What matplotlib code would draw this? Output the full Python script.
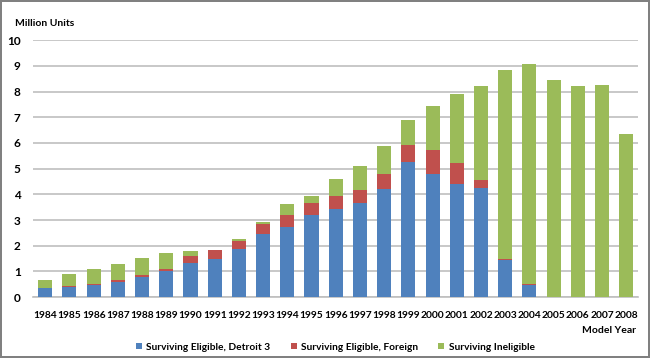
import matplotlib.pyplot as plt
import numpy as np

years = [str(y) for y in range(1984, 2009)]
# million units
detroit3 = [0.36, 0.40, 0.48, 0.60, 0.79, 1.00, 1.33, 1.49, 1.87, 2.45, 2.72, 3.18,
            3.41, 3.65, 4.19, 5.26, 4.81, 4.42, 4.25, 1.43, 0.46, 0, 0, 0, 0]
foreign = [0.01, 0.04, 0.04, 0.07, 0.09, 0.10, 0.27, 0.34, 0.32, 0.39, 0.48, 0.48,
           0.53, 0.53, 0.61, 0.65, 0.92, 0.79, 0.30, 0.06, 0.05, 0, 0, 0, 0]
totals = [0.66, 0.89, 1.09, 1.27, 1.54, 1.71, 1.80, 1.85, 2.28, 2.92, 3.61, 3.92,
          4.58, 5.10, 5.87, 6.89, 7.42, 7.90, 8.22, 8.84, 9.08, 8.46, 8.20, 8.24, 6.36]
ineligible = [t - d - f for t, d, f in zip(totals, detroit3, foreign)]

blue = "#4F81BD"
red = "#C0504D"
green = "#9BBB59"

plt.rcParams["font.family"] = ["Lato", "DejaVu Sans"]
plt.rcParams["font.weight"] = "bold"

fig = plt.figure(figsize=(6.5, 3.58), dpi=100)
fig.patch.set_edgecolor("#808080")
fig.patch.set_linewidth(1.5)
ax = fig.add_axes([0.051, 0.170, 0.931, 0.718])

x = np.arange(len(years))
w = 0.58
b1 = ax.bar(x, detroit3, w, color=blue, label="Surviving Eligible, Detroit 3", zorder=3)
b2 = ax.bar(x, foreign, w, bottom=detroit3, color=red,
            label="Surviving Eligible, Foreign", zorder=3)
bottom2 = [d + f for d, f in zip(detroit3, foreign)]
b3 = ax.bar(x, ineligible, w, bottom=bottom2, color=green,
            label="Surviving Ineligible", zorder=3)

ax.set_xlim(-0.5, len(years) - 0.5)
ax.set_ylim(0, 10)
ax.set_yticks(range(0, 11))
ax.yaxis.grid(True, color="#BFBFBF", linewidth=1.2, zorder=0)
ax.set_xticks(x)
ax.set_xticklabels(years)
ax.tick_params(axis="y", length=0, labelsize=8.5, pad=9)
ax.tick_params(axis="x", length=0, labelsize=7.4, pad=10)
for s in ["top", "right", "left"]:
    ax.spines[s].set_visible(False)
ax.spines["bottom"].set_color("#BFBFBF")
ax.spines["bottom"].set_linewidth(1.2)

fig.text(0.023, 0.935, "Million Units", fontsize=7.5, fontweight="bold", va="center")
fig.text(0.978, 0.078, "Model Year", fontsize=7.5, fontweight="bold",
         ha="right", va="center")

fig.legend(handles=[b1, b2, b3], loc="center", bbox_to_anchor=(0.516, 0.03),
           ncol=3, frameon=False, fontsize=7.3, handlelength=0.6, handleheight=0.6,
           handletextpad=0.4, columnspacing=2.0)

fig.savefig("out.png", dpi=100, edgecolor=fig.get_edgecolor())
